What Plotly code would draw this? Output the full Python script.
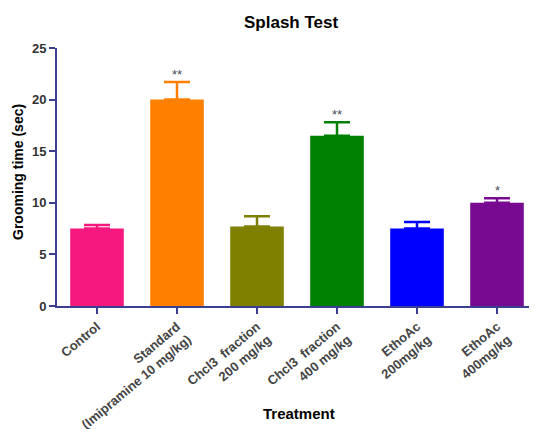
import plotly.graph_objects as go

categories = ["Control", "Standard<br>(Imipramine 10 mg/kg)", "Chcl3  fraction<br>200 mg/kg",
              "Chcl3  fraction<br>400 mg/kg", "EthoAc<br>200mg/kg", "EthoAc<br>400mg/kg"]
means = [7.5, 20.0, 7.7, 16.5, 7.5, 10.0]
sems = [0.35, 1.7, 1.0, 1.3, 0.65, 0.45]
stars = ["", "**", "", "**", "", "*"]
colors = ["#F7187F", "#FF8000", "#808000", "#008000", "#0000FF", "#780A91"]
yticks = [0, 5, 10, 15, 20, 25]

axis_col = "#3C3F8F"
fig = go.Figure()
for i, c in enumerate(categories):
    fig.add_trace(go.Bar(
        x=[c], y=[means[i]], width=0.67, marker=dict(color=colors[i], line=dict(width=0)),
        error_y=dict(type="data", array=[sems[i]], arrayminus=[0], symmetric=False,
                     color=colors[i], thickness=2.5, width=13),
        showlegend=False))
    if stars[i]:
        fig.add_annotation(x=c, y=means[i] + sems[i], text=stars[i], showarrow=False,
                           yanchor="bottom", yshift=-2,
                           font=dict(size=13, color="#4a4a5a", family="Liberation Sans"))

fig.add_annotation(text="<b>Splash Test</b>", xref="paper", yref="paper", x=(291 - 57) / 480,
                   y=1 + (48 - 22) / 258, showarrow=False, xanchor="center", yanchor="middle",
                   font=dict(size=17, color="#000000"))
fig.add_annotation(text="<b>Treatment</b>", xref="paper", yref="paper", x=(299 - 57) / 480,
                   y=-(413 - 306) / 258, showarrow=False, xanchor="center", yanchor="middle",
                   font=dict(size=15, color="#000000"))
fig.add_annotation(text="<b>Grooming time (sec)</b>", xref="paper", yref="paper", x=-(57 - 18) / 480,
                   y=(306 - 172) / 258, showarrow=False, xanchor="center", yanchor="middle",
                   textangle=-90, font=dict(size=14, color="#000000"))

fig.update_layout(
    width=529, height=421, barmode="overlay",
    margin=dict(l=49, r=0, t=40, b=123, autoexpand=False),
    paper_bgcolor="white", plot_bgcolor="white",
    font=dict(family="Liberation Sans, Arial", color="#333333"),
    xaxis=dict(type="category", range=[-0.5, 5.5], showline=True, linecolor=axis_col, linewidth=2,
               ticks="outside", ticklen=6, tickwidth=2, tickcolor=axis_col, tickangle=-40,
               tickfont=dict(size=13, color="#444444", family="Liberation Sans"),
               ticktext=["<b>" + c + "</b>" for c in categories], tickvals=categories,
               automargin=False, showgrid=False, zeroline=False),
    yaxis=dict(range=[0, 25], tickvals=yticks,
               ticktext=["<b>%d</b>" % v for v in yticks],
               showline=True, linecolor=axis_col, linewidth=2,
               ticks="outside", ticklen=6, tickwidth=2, tickcolor=axis_col,
               tickfont=dict(size=13, color="#333333"),
               automargin=False, showgrid=False, zeroline=False),
)
fig.write_html("out.html")
